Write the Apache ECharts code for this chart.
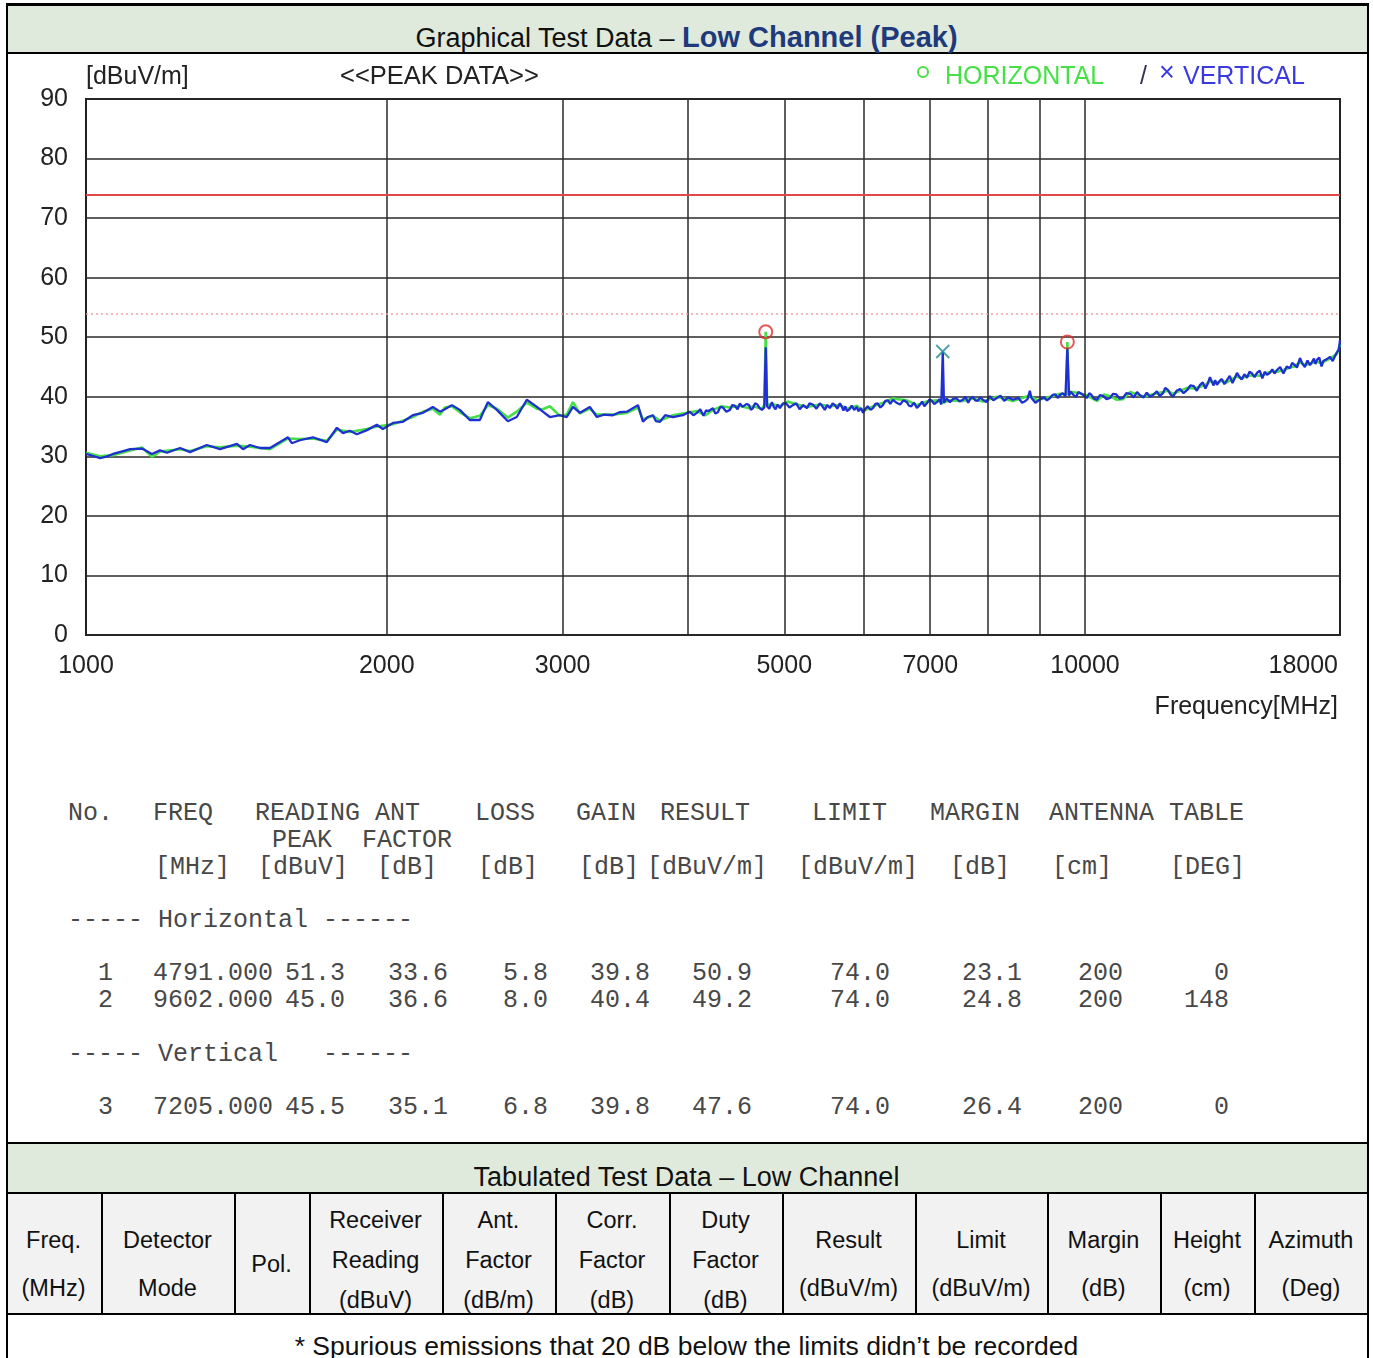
<!DOCTYPE html>
<html><head><meta charset="utf-8">
<script src="https://cdn.jsdelivr.net/npm/echarts/dist/echarts.min.js"></script>
<style>
html,body{margin:0;padding:0;background:#fff;}
body{width:1373px;height:1358px;position:relative;overflow:hidden;font-family:"Liberation Sans",Arial,sans-serif;color:#111;}
.a{position:absolute;}
.blk{position:absolute;background:#000;}
.mono{position:absolute;font-family:"Liberation Mono","Courier New",monospace;font-size:25px;line-height:28px;color:#484848;white-space:pre;}
.th{position:absolute;font-size:23.5px;line-height:28px;text-align:center;color:#111;white-space:nowrap;}
</style></head>
<body>
<div class="a" style="left:7px;top:6px;width:1361px;height:46px;background:#e0eadc;"></div>
<div class="a" style="left:7px;top:1144px;width:1361px;height:48px;background:#e0eadc;"></div>
<div class="a" style="left:7px;top:1194px;width:1361px;height:120px;background:#f2f2f2;"></div>
<div class="blk" style="left:6px;top:3px;width:1363px;height:3px;"></div>
<div class="blk" style="left:6px;top:52px;width:1363px;height:2px;"></div>
<div class="blk" style="left:6px;top:1142px;width:1363px;height:2px;"></div>
<div class="blk" style="left:6px;top:1192px;width:1363px;height:2px;"></div>
<div class="blk" style="left:6px;top:1313px;width:1363px;height:2px;"></div>
<div class="blk" style="left:6px;top:3px;width:2px;height:1355px;"></div>
<div class="blk" style="left:1367px;top:3px;width:2px;height:1355px;"></div>
<div class="a" style="left:0;top:19px;width:1373px;text-align:center;font-size:27px;line-height:36px;">Graphical Test Data – <b style="color:#1f3a7a;font-size:29px;">Low Channel (Peak)</b></div>
<div class="a" style="left:0;top:1160px;width:1373px;text-align:center;font-size:27px;line-height:34px;">Tabulated Test Data – Low Channel</div>
<div class="a" style="left:0;top:1330px;width:1373px;text-align:center;font-size:26.5px;line-height:32px;">* Spurious emissions that 20 dB below the limits didn’t be recorded</div>
<div id="tbl"></div>
<div id="mono"></div>
<div id="chart" class="a" style="left:0;top:52px;width:1373px;height:700px;"></div>
<script>
// ---------------- data ----------------
const xLabelValues = [1000, 2000, 3000, 5000, 7000, 10000, 18000];
const xGridValues = [2000, 3000, 4000, 5000, 6000, 7000, 8000, 9000, 10000];
const yMin = 0, yMax = 90, yStep = 10;
const limitPeak = 74;
const limitAvg = 54;

// Vertical polarization trace [MHz, dBuV/m]
const vertical = [
[1000,30.4],[1015,30.1],[1033,29.7],[1050,30.0],[1064,30.4],[1085,30.8],[1107,31.2],[1138,31.3],[1164,30.4],[1186,31.0],
[1205,30.6],[1242,31.4],[1271,30.7],[1321,31.9],[1362,31.2],[1416,32.1],[1436,31.2],[1459,31.9],[1493,31.4],[1528,31.4],
[1564,32.4],[1593,33.2],[1607,32.2],[1637,32.7],[1687,33.2],[1742,32.4],[1783,34.8],[1808,33.9],[1837,34.3],[1867,33.7],
[1911,34.4],[1955,35.3],[1982,34.6],[2029,35.6],[2076,35.8],[2124,36.9],[2174,37.3],[2224,38.3],[2261,37.5],[2287,37.9],
[2324,38.6],[2367,37.8],[2422,36.1],[2479,36.1],[2525,39.1],[2578,37.8],[2644,35.9],[2699,36.6],[2762,39.5],[2827,38.3],
[2866,37.5],[2913,36.6],[2981,36.9],[3029,36.6],[3072,38.3],[3122,37.3],[3194,38.3],[3246,36.6],[3300,37.0],[3368,36.9],
[3420,37.4],[3479,37.5],[3569,38.6],[3610,35.8],[3650,36.6],[3694,36.9],[3720,35.9],[3754,35.8],[3800,36.9],[3868,36.6],
[3958,36.9],[4020,37.5],[4055,36.9],[4088,37.3],[4120,37.9],[4150,36.8],[4175,37.7],[4200,37.6],[4242,38.1],[4265,37.2],
[4290,37.4],[4315,38.3],[4340,38.2],[4375,37.5],[4411,37.8],[4435,38.6],[4460,38.5],[4490,37.9],[4514,38.9],[4540,38.3],
[4560,38.0],[4585,38.8],[4610,38.6],[4630,37.8],[4652,38.1],[4675,38.9],[4700,38.7],[4725,38.1],[4749,37.8],[4775,38.2],
[4791,48.3],[4806,38.4],[4830,38.0],[4860,39.1],[4880,38.3],[4900,37.9],[4925,38.7],[4950,38.1],[4985,38.9],[5020,38.9],
[5060,38.2],[5100,38.6],[5140,38.9],[5180,37.9],[5225,38.6],[5268,38.1],[5300,38.9],[5340,38.7],[5385,38.0],[5428,38.9],
[5460,38.4],[5490,37.8],[5520,38.6],[5554,38.1],[5590,38.9],[5620,38.6],[5650,38.0],[5684,38.9],[5710,38.3],[5730,37.7],
[5755,38.4],[5777,37.6],[5810,37.9],[5840,38.5],[5875,37.8],[5911,38.3],[5930,37.6],[5950,37.4],[5970,38.1],[5994,37.3],
[6030,38.0],[6060,38.4],[6100,37.8],[6134,38.1],[6170,38.8],[6200,38.9],[6240,38.2],[6277,38.6],[6310,39.3],[6350,39.4],
[6385,38.8],[6423,39.5],[6475,39.0],[6530,38.7],[6580,39.4],[6633,39.1],[6665,38.5],[6700,38.4],[6745,39.0],[6788,38.1],
[6830,38.6],[6870,39.2],[6905,38.4],[6946,38.9],[6985,39.5],[7020,39.4],[7065,38.8],[7108,39.1],[7150,39.6],[7180,38.7],
[7205,47.6],[7225,39.0],[7270,39.7],[7324,39.1],[7375,39.6],[7430,39.8],[7490,39.2],[7547,39.5],[7590,40.0],[7640,39.0],
[7680,39.7],[7723,40.0],[7765,39.4],[7810,39.3],[7855,39.9],[7903,39.5],[7965,39.1],[8030,40.1],[8095,39.4],[8162,39.8],
[8230,40.2],[8300,39.3],[8380,39.9],[8468,39.5],[8580,39.8],[8650,39.0],[8700,39.2],[8760,39.6],[8806,41.0],[8840,39.8],
[8880,39.6],[8920,39.0],[8954,39.1],[9020,39.6],[9100,39.9],[9160,39.4],[9225,39.8],[9280,40.3],[9340,40.4],[9390,39.8],
[9441,40.3],[9500,40.6],[9560,40.1],[9602,48.2],[9640,40.2],[9670,40.9],[9705,40.6],[9750,40.2],[9800,40.0],[9850,40.8],
[9886,41.1],[9960,40.3],[10046,39.8],[10100,40.6],[10150,40.3],[10210,39.7],[10280,39.5],[10350,40.3],[10430,40.1],[10510,39.6],
[10593,39.8],[10670,40.5],[10750,40.4],[10830,39.7],[10915,39.8],[11000,40.6],[11100,40.5],[11190,39.9],[11274,40.8],[11360,40.2],
[11450,39.9],[11530,40.7],[11616,40.0],[11700,40.3],[11800,40.9],[11880,40.1],[11970,40.6],[12030,41.5],[12100,41.2],[12180,40.4],
[12249,40.0],[12350,41.0],[12450,41.3],[12550,40.6],[12651,41.1],[12750,41.9],[12850,41.8],[12940,41.0],[13036,42.0],[13120,42.4],
[13200,41.4],[13270,42.2],[13339,43.3],[13400,42.5],[13450,41.9],[13500,42.8],[13556,42.0],[13630,42.6],[13700,43.0],[13790,42.1],
[13872,42.8],[13960,43.5],[14050,42.3],[14120,43.1],[14196,44.0],[14270,43.4],[14350,42.9],[14440,43.8],[14528,43.2],[14610,44.2],
[14700,43.9],[14780,43.3],[14866,44.0],[14960,44.4],[15050,43.1],[15130,44.2],[15213,43.7],[15310,44.0],[15400,44.6],[15480,43.9],
[15567,44.5],[15680,45.0],[15800,43.9],[15920,45.1],[16041,44.8],[16120,45.7],[16200,45.4],[16300,44.9],[16414,46.5],[16500,45.6],
[16600,45.0],[16700,46.1],[16798,45.3],[16870,45.8],[16950,46.4],[17010,45.5],[17071,46.2],[17160,46.6],[17250,45.1],[17320,46.0],
[17389,45.7],[17490,46.4],[17590,46.7],[17700,46.0],[17800,46.9],[17876,47.5],[17950,47.9],[18000,49.5]
];

// Horizontal polarization trace [MHz, dBuV/m]
const horizontal = [
[1000,30.6],[1033,30.0],[1064,30.2],[1107,31.0],[1138,31.5],[1164,29.9],[1186,30.8],[1242,31.2],[1271,30.9],[1321,31.7],
[1362,31.5],[1416,31.8],[1459,31.6],[1528,31.2],[1564,32.2],[1593,33.0],[1637,32.9],[1687,33.0],[1742,32.6],[1783,34.5],
[1837,34.1],[1911,34.6],[1955,35.0],[2029,35.4],[2076,36.0],[2124,36.6],[2174,37.5],[2224,38.0],[2261,37.0],[2287,38.2],
[2324,38.4],[2367,37.4],[2422,36.4],[2479,36.8],[2525,38.6],[2578,38.0],[2644,36.5],[2699,37.5],[2762,39.0],[2827,38.0],
[2866,37.9],[2913,38.4],[2981,36.8],[3029,37.0],[3072,39.1],[3122,37.2],[3194,38.0],[3246,37.0],[3368,37.0],[3479,37.3],
[3569,38.2],[3610,36.2],[3694,36.8],[3754,36.0],[3868,36.9],[3958,37.2],[4088,37.6],[4170,36.9],[4242,37.8],[4330,38.4],
[4411,38.2],[4514,38.5],[4600,38.1],[4652,38.4],[4749,38.0],[4775,38.6],[4791,50.9],[4806,38.6],[4860,38.8],[4950,38.4],
[5040,39.2],[5100,38.9],[5268,38.3],[5428,38.7],[5554,38.4],[5684,38.6],[5777,38.0],[5911,38.5],[5994,37.6],[6134,38.4],
[6277,39.0],[6423,39.7],[6633,39.4],[6788,38.6],[6946,39.2],[7108,39.4],[7205,39.0],[7324,39.4],[7547,39.3],[7723,39.7],
[7903,39.2],[8162,40.0],[8468,39.3],[8806,40.2],[8954,39.4],[9225,40.0],[9441,40.5],[9580,40.4],[9602,49.2],[9625,40.3],
[9705,40.8],[9886,40.6],[10046,40.2],[10280,39.3],[10450,40.4],[10593,40.1],[10760,39.5],[10915,39.6],[11100,40.8],[11274,40.4],
[11450,40.0],[11616,40.3],[11800,40.6],[11970,40.8],[12100,41.0],[12249,40.5],[12450,41.0],[12651,41.5],[12850,41.4],[13036,41.7],
[13200,42.0],[13339,42.6],[13556,42.3],[13700,42.7],[13872,42.4],[14050,43.0],[14196,43.4],[14350,43.1],[14528,43.5],[14700,43.6],
[14866,43.6],[15050,43.5],[15213,44.0],[15400,44.3],[15567,44.2],[15800,44.5],[16041,44.9],[16200,45.1],[16414,45.8],[16600,45.3],
[16798,45.6],[17071,45.9],[17250,45.6],[17389,46.0],[17590,46.4],[17876,47.2],[18000,48.8]
];

// Measured peaks
const peaksHorizontal = [[4791, 50.9], [9602, 49.2]];
const peaksVertical = [[7205, 47.6]];

// Peak data listing
const listHeader1 = [[68,"No."],[153,"FREQ"],[255,"READING ANT"],[475,"LOSS"],[576,"GAIN"],[660,"RESULT"],[812,"LIMIT"],[930,"MARGIN"],[1049,"ANTENNA TABLE"]];
const listHeader2 = [[272,"PEAK  FACTOR"]];
const listHeader3 = [[155,"[MHz]"],[258,"[dBuV]"],[377,"[dB]"],[478,"[dB]"],[579,"[dB]"],[647,"[dBuV/m]"],[798,"[dBuV/m]"],[950,"[dB]"],[1052,"[cm]"],[1170,"[DEG]"]];
const row1 = ["1","4791.000","51.3","33.6","5.8","39.8","50.9","74.0","23.1","200","0"];
const row2 = ["2","9602.000","45.0","36.6","8.0","40.4","49.2","74.0","24.8","200","148"];
const row3 = ["3","7205.000","45.5","35.1","6.8","39.8","47.6","74.0","26.4","200","0"];

// Tabulated header
const tabCols = [
 ["Freq.","(MHz)"],["Detector","Mode"],["Pol."],["Receiver","Reading","(dBuV)"],["Ant.","Factor","(dB/m)"],
 ["Corr.","Factor","(dB)"],["Duty","Factor","(dB)"],["Result","(dBuV/m)"],["Limit","(dBuV/m)"],["Margin","(dB)"],["Height","(cm)"],["Azimuth","(Deg)"]
];
const tabEdges = [6,101,234,309,442,555,669,782,915,1047,1160,1254,1368];

// ---------------- HTML text blocks ----------------
(function(){
  let h = '';
  for (let i = 0; i < tabCols.length; i++) {
    const l = tabEdges[i], r = tabEdges[i+1], lines = tabCols[i];
    if (i > 0) h += `<div class="blk" style="left:${l}px;top:1193px;width:1.5px;height:121px;"></div>`;
    const ys = lines.length === 3 ? [1220,1260,1300] : lines.length === 2 ? [1240,1288] : [1264];
    lines.forEach((t, k) => { h += `<div class="th" style="left:${l}px;width:${r-l}px;top:${ys[k]-14}px;">${t}</div>`; });
  }
  document.getElementById('tbl').innerHTML = h;
  let m = '';
  const put = (x, y, t, right) => { m += right ? `<div class="mono" style="right:${1373-x}px;top:${y-14}px;">${t}</div>` : `<div class="mono" style="left:${x}px;top:${y-14}px;">${t}</div>`; };
  listHeader1.forEach(p => put(p[0], 814, p[1]));
  listHeader2.forEach(p => put(p[0], 841, p[1]));
  listHeader3.forEach(p => put(p[0], 868, p[1]));
  put(68, 921, "----- Horizontal ------");
  put(68, 1055, "----- Vertical   ------");
  const xs = [113,153,285,388,503,590,692,830,962,1078,1229];
  const rr = [true,false,false,false,false,false,false,false,false,false,true];
  [[row1,974],[row2,1001],[row3,1108]].forEach(([row,y]) => row.forEach((t,i) => put(xs[i], y, t, rr[i])));
  document.getElementById('mono').innerHTML = m;
})();

// ---------------- chart ----------------
const chart = echarts.init(document.getElementById('chart'));
const gridColor = '#2a2a2a';
const fontFam = '"Liberation Sans", Arial, sans-serif';
chart.setOption({
  animation: false,
  grid: { left: 86, top: 47, width: 1254, height: 536, show: true, borderColor: '#222', borderWidth: 2, backgroundColor: 'transparent' },
  xAxis: { type: 'log', logBase: 10, min: 1000, max: 18000,
    axisLine: { show: false }, axisTick: { show: false }, splitLine: { show: false }, axisLabel: { show: false } },
  yAxis: { type: 'value', min: yMin, max: yMax, interval: yStep,
    axisLine: { show: false }, axisTick: { show: false },
    axisLabel: { fontSize: 25, color: '#222', margin: 18, fontFamily: fontFam, padding: [6, 0, 0, 0] },
    splitLine: { show: true, lineStyle: { color: gridColor, width: 1.5 } } },
  series: [
    { name: 'grid', type: 'line', data: [], silent: true,
      markLine: { silent: true, symbol: 'none', label: { show: false },
        lineStyle: { color: gridColor, width: 1.5, type: 'solid' },
        data: xGridValues.map(v => ({ xAxis: v })) } },
    { name: 'limits', type: 'line', data: [], silent: true,
      markLine: { silent: true, symbol: 'none', label: { show: false },
        data: [
          { yAxis: limitPeak, lineStyle: { color: '#e04848', width: 2, type: 'solid' } },
          { yAxis: limitAvg, lineStyle: { color: '#f2a0a0', width: 1.5, type: [2, 3] } }
        ] } },
    { name: 'HORIZONTAL', type: 'line', data: horizontal, showSymbol: false, symbol: 'none',
      lineStyle: { color: '#46e046', width: 2.6 }, z: 3 },
    { name: 'VERTICAL', type: 'line', data: vertical, showSymbol: false, symbol: 'none',
      lineStyle: { color: '#1f30d0', width: 2.3 }, z: 4 },
    { name: 'peakH', type: 'scatter', data: peaksHorizontal, symbol: 'circle', symbolSize: 13,
      itemStyle: { color: 'rgba(0,0,0,0)', borderColor: '#e03030', borderWidth: 2 }, z: 6 },
    { name: 'peakV', type: 'scatter', data: peaksVertical, symbol: 'path://M0,0L10,10M10,0L0,10', symbolSize: 13,
      itemStyle: { color: 'rgba(0,0,0,0)', borderColor: '#2a8a98', borderWidth: 2 }, z: 6 }
  ]
});

const bottomY = chart.convertToPixel({ yAxisIndex: 0 }, 0);
const txt = (x, y, text, fill, size, align, vAlign) => ({ type: 'text', x: x, y: y, silent: true,
  style: { text: text, fill: fill, font: `${size}px ${fontFam}`, align: align || 'left', verticalAlign: vAlign || 'middle' } });
const g = [];
xLabelValues.forEach((v, i) => {
  const px = chart.convertToPixel({ xAxisIndex: 0 }, v);
  const last = i === xLabelValues.length - 1;
  g.push(txt(last ? px - 2 : px, bottomY + 31, String(v), '#222', 25, last ? 'right' : 'center'));
});
g.push(txt(1338, bottomY + 72, 'Frequency[MHz]', '#222', 25, 'right'));
g.push(txt(86, 25, '[dBuV/m]', '#222', 25));
g.push(txt(340, 25, '<<PEAK DATA>>', '#222', 25.5));
g.push({ type: 'circle', silent: true, shape: { cx: 923, cy: 20, r: 5 }, style: { fill: 'none', stroke: '#46e046', lineWidth: 2 } });
g.push(txt(945, 25, 'HORIZONTAL', '#46e046', 25));
g.push(txt(1140, 25, '/', '#333355', 25));
g.push(txt(1159, 22, '×', '#3a3ae0', 27));
g.push(txt(1183, 25, 'VERTICAL', '#3a3ae0', 25));
chart.setOption({ graphic: g });
</script>
</body></html>
